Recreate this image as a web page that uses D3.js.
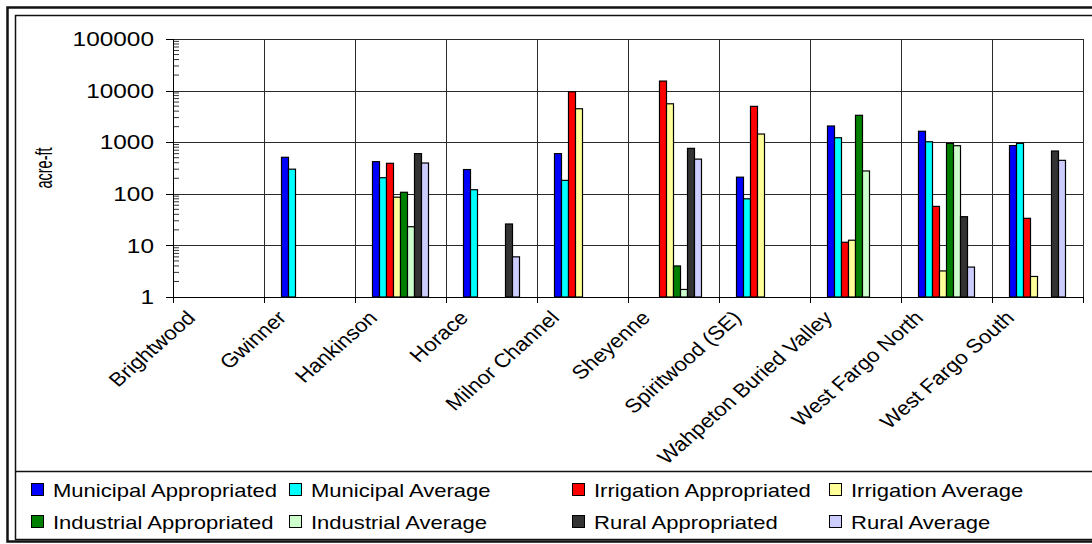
<!DOCTYPE html>
<html lang="en">
<head>
<meta charset="UTF-8" />
<title>Water use by aquifer</title>
<style>
  body { margin: 0; background: #fff; }
  svg { display: block; font-family: 'Liberation Sans', Arial, sans-serif; }
  .grid line { stroke: #2a2a2a; stroke-width: 1; }
  .bar { stroke: #000; stroke-width: 1.2; }
  .legend text { font-size: 19px; fill: #000; }
</style>
</head>
<body>
<svg id="chart"></svg>
<script src="https://d3js.org/d3.v7.min.js"></script>
<script>
// categories along the x axis
const categories = ["Brightwood", "Gwinner", "Hankinson", "Horace", "Milnor Channel",
  "Sheyenne", "Spiritwood (SE)", "Wahpeton Buried Valley", "West Fargo North", "West Fargo South"];

const seriesNames = ["Municipal Appropriated", "Municipal Average", "Irrigation Appropriated",
  "Irrigation Average", "Industrial Appropriated", "Industrial Average",
  "Rural Appropriated", "Rural Average"];

const seriesColors = ["#0000ff", "#00ffff", "#ff0000", "#ffff99",
  "#008000", "#ccffcc", "#333333", "#ccccff"];

// values in acre-ft, null = no bar
const municipalAppropriated = [null, 510, 420, 295, 600, null, 210, 2060, 1630, 860];
const municipalAverage      = [null, 300, 205, 120, 182, null, 80, 1220, 1020, 950];
const irrigationAppropriated = [null, null, 390, null, 9500, 15300, 4950, 11.5, 57, 33.5];
const irrigationAverage     = [null, null, 86, null, 4450, 5550, 1440, 12.6, 3.2, 2.5];
const industrialAppropriated = [null, null, 107, null, null, 4.0, null, 3320, 950, null];
const industrialAverage     = [null, null, 23, null, null, 1.4, null, 277, 855, null];
const ruralAppropriated     = [null, null, 600, 26, null, 760, null, null, 36, 675];
const ruralAverage          = [null, null, 395, 6.0, null, 470, null, null, 3.8, 445];

const yTicks = [1, 10, 100, 1000, 10000, 100000];

const seriesValues = [municipalAppropriated, municipalAverage, irrigationAppropriated,
  irrigationAverage, industrialAppropriated, industrialAverage, ruralAppropriated, ruralAverage];

const W = 1092, H = 544;
const plot = { left: 173, right: 1083, top: 39, bottom: 297 };
const stretch = 1.16; // text in the original looks widened

const svg = d3.select("#chart").attr("width", W).attr("height", H);

svg.append("rect").attr("width", W).attr("height", H).attr("fill", "#fff");

// chart frame (double line, cut off on the right)
svg.append("rect").attr("x", 7.5).attr("y", 7.5).attr("width", W + 20).attr("height", 534)
  .attr("fill", "none").attr("stroke", "#111").attr("stroke-width", 2.5);
svg.append("rect").attr("x", 15.5).attr("y", 15.5).attr("width", W + 20).attr("height", 524)
  .attr("fill", "none").attr("stroke", "#111").attr("stroke-width", 1.5);

const x = d3.scaleBand().domain(categories).range([plot.left, plot.right]);
const xs = d3.scaleBand().domain(seriesNames).range([0, x.bandwidth()])
  .paddingInner(0).paddingOuter(2.5);
const y = d3.scaleLog().domain([1, 100000]).range([plot.bottom, plot.top]);

// grid
const grid = svg.append("g").attr("class", "grid");
grid.selectAll(".h").data(yTicks).join("line")
  .attr("x1", plot.left).attr("x2", plot.right)
  .attr("y1", d => Math.round(y(d)) + 0.5).attr("y2", d => Math.round(y(d)) + 0.5)
  .attr("stroke", d => d === 100000 ? "#888" : null);
grid.selectAll(".v").data(categories.slice(1).concat(["__end"])).join("line")
  .attr("x1", (d, i) => Math.round(x(categories[i]) + x.bandwidth()) + 0.5)
  .attr("x2", (d, i) => Math.round(x(categories[i]) + x.bandwidth()) + 0.5)
  .attr("y1", plot.top).attr("y2", plot.bottom)
  .attr("stroke", d => d === "__end" ? "#888" : null);

// bars
const rows = [];
seriesValues.forEach((vals, s) => vals.forEach((v, c) => {
  if (v != null) rows.push({ s, c, v });
}));
svg.append("g").selectAll("rect").data(rows).join("rect")
  .attr("class", "bar")
  .attr("x", d => x(categories[d.c]) + xs(seriesNames[d.s]))
  .attr("width", xs.bandwidth())
  .attr("y", d => y(d.v))
  .attr("height", d => y(1) - y(d.v))
  .attr("fill", d => seriesColors[d.s]);

// y axis
const yAxis = svg.append("g").attr("transform", `translate(${plot.left},0)`);
yAxis.append("line").attr("x1", 0.5).attr("x2", 0.5)
  .attr("y1", plot.top).attr("y2", plot.bottom).attr("stroke", "#000");
yAxis.selectAll(".major").data(yTicks).join("line")
  .attr("x1", -7).attr("x2", 0)
  .attr("y1", d => Math.round(y(d)) + 0.5).attr("y2", d => Math.round(y(d)) + 0.5)
  .attr("stroke", "#000");
const minor = [];
for (let e = 0; e < 5; e++) for (let k = 2; k <= 9; k++) minor.push(k * Math.pow(10, e));
yAxis.selectAll(".minor").data(minor).join("line")
  .attr("x1", 0).attr("x2", 6)
  .attr("y1", d => y(d)).attr("y2", d => y(d))
  .attr("stroke", "#000").attr("stroke-width", 0.8);
yAxis.selectAll("text").data(yTicks).join("text")
  .attr("transform", d => `translate(-19,${y(d)}) scale(1.22,1)`)
  .attr("dy", "0.36em")
  .attr("text-anchor", "end")
  .attr("font-size", 20)
  .text(d => d);

svg.append("text")
  .attr("transform", `translate(52,${(plot.top + plot.bottom) / 2}) scale(1.6,1) rotate(-90)`)
  .attr("text-anchor", "middle")
  .attr("font-size", 14.5)
  .text("acre-ft");

// x axis
const xAxis = svg.append("g");
xAxis.append("line").attr("x1", plot.left - 7).attr("x2", plot.right)
  .attr("y1", plot.bottom + 0.5).attr("y2", plot.bottom + 0.5).attr("stroke", "#000");
xAxis.selectAll(".tk").data(categories.concat(["__end"])).join("line")
  .attr("x1", (d, i) => Math.round(plot.left + i * x.step()) + 0.5)
  .attr("x2", (d, i) => Math.round(plot.left + i * x.step()) + 0.5)
  .attr("y1", plot.bottom).attr("y2", plot.bottom + 6)
  .attr("stroke", "#000");
xAxis.selectAll("text").data(categories).join("text")
  .attr("transform", d => `translate(${x(d) + x.bandwidth() / 2 - 22},319) scale(1.14,1) rotate(-45)`)
  .attr("text-anchor", "end")
  .attr("font-size", 19.5)
  .text(d => d);

// legend
svg.append("line").attr("x1", 15).attr("x2", W).attr("y1", 471.5).attr("y2", 471.5)
  .attr("stroke", "#111").attr("stroke-width", 1.5);
const legendCols = [31, 289, 572, 829];
const legendRows = [490, 522];
const legend = svg.append("g").attr("class", "legend");
const item = legend.selectAll("g").data(seriesNames).join("g")
  .attr("transform", (d, i) => `translate(${legendCols[i % 4]},${legendRows[Math.floor(i / 4)]})`);
item.append("rect")
  .attr("x", 0.5).attr("y", -6.5).attr("width", 12).attr("height", 12)
  .attr("fill", (d, i) => seriesColors[i]).attr("stroke", "#000");
item.append("text")
  .attr("transform", `translate(22,0) scale(${stretch},1)`)
  .attr("dy", "0.35em")
  .text(d => d);
</script>
</body>
</html>
